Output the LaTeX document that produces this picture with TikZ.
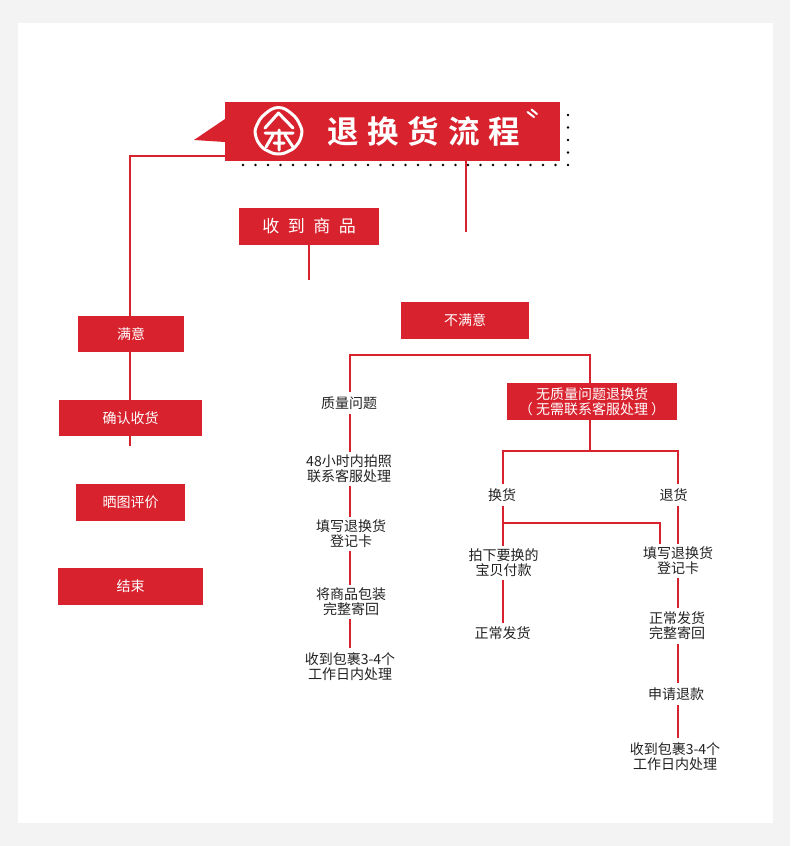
\documentclass[tikz,border=0pt]{standalone}
\usepackage{fontspec}
\setmainfont{Noto Sans CJK SC}
\newfontfamily\titlefont[LetterSpace=28]{Noto Sans CJK SC Bold}
\newfontfamily\headfont[LetterSpace=50]{Noto Sans CJK SC}
\usetikzlibrary{positioning, calc}
\definecolor{rdmain}{HTML}{D8232F}
\definecolor{bggray}{HTML}{F3F3F3}
\definecolor{txtdark}{HTML}{222222}

\begin{document}
\begin{tikzpicture}[
  x=1pt, y=-1pt,
  rbox/.style={
    fill=rdmain, minimum width=#1, minimum height=37pt, text=white,
    font=\fontsize{14}{15}\selectfont, align=center, inner sep=0pt, outer sep=0pt
  },
  ttxt/.style={
    minimum height=#1, text=txtdark, font=\fontsize{14}{15}\selectfont,
    align=center, inner sep=0pt, outer sep=0pt
  },
  conn/.style={draw=rdmain, line width=2pt},
  logoline/.style={draw=white, line width=3pt, line cap=round, line join=round},
]

% Background
\fill[bggray] (0,0) rectangle (790,846);
\fill[white] (18,23) rectangle (773,823);

% Dots round the banner
\foreach \i in {0,...,26}
  \fill[black] (243+12.5*\i,165) circle (1.4);
\foreach \j in {115,127.5,140,152.5}
  \fill[black] (568,\j) circle (1.4);

% =============================================
% Title banner
% =============================================
\fill[rdmain] (225,119) -- (194,140) -- (225,142) -- cycle;
\node[rbox=335pt, minimum height=59pt] (banner) at (392.5,131.5) {};
\node[text=white, inner sep=0pt, font=\fontsize{31.5}{34}\titlefont] (title) at (423.5,131.5)
  {退换货流程};

% Logo
\draw[logoline] plot[smooth cycle, tension=0.75] coordinates
  {(278.5,107.5) (292,114) (300,125) (301.5,135) (296,146) (287,152) (278.5,154)
   (270,152) (261,146) (255.5,135) (257,125) (265,114)};
\draw[logoline] (265,128) -- (278.5,113) -- (293,128);
\draw[logoline] (265,133) -- (293,133) (279,130) -- (279,150)
  (273,135) -- (266,147) (285,135) -- (293,147) (274,143) -- (284,143);
\draw[logoline, line width=2pt] (527.5,112) -- (534,117) (531.5,109.5) -- (537,114);

% =============================================
% Top row
% =============================================
\node[rbox=140pt] (received) at (309,226.5)
  {\fontsize{17}{18}\headfont 收到商品};
\node[rbox=128pt] (unhappy) at (465,320.5) {不满意};
\coordinate (bannerend) at (466,232);
\coordinate (receivedend) at (309,280);

% =============================================
% Left: satisfied
% =============================================
\node[rbox=106pt, minimum height=36pt] (happy) at (131,334) {满意};
\node[rbox=143pt, minimum height=36pt] (confirm) at (130.5,418) {确认收货};
\node[rbox=109pt, minimum height=37pt] (review) at (130.5,502.5) {晒图评价};
\node[rbox=145pt, minimum height=37pt] (finish) at (130.5,586.5) {结束};
\coordinate (confirmend) at (129.5,446);

% =============================================
% Middle: quality problem
% =============================================
\node[ttxt=22pt] (quality) at (349,403) {质量问题};
\node[ttxt=34pt] (photo) at (349,469) {48小时内拍照\\联系客服处理};
\node[ttxt=34pt] (card) at (351,534) {填写退换货\\登记卡};
\node[ttxt=34pt] (pack) at (351,602) {将商品包装\\完整寄回};
\node[ttxt=38pt] (parcel) at (350,667) {收到包裹3-4个\\工作日内处理};

% =============================================
% Right: no quality problem
% =============================================
\node[rbox=170pt] (noqual) at (592,401.5)
  {无质量问题退换货\\（ 无需联系客服处理 ）};
\node[ttxt=22pt] (swap) at (502,495) {换货};
\node[ttxt=34pt] (paynew) at (503.5,563) {拍下要换的\\宝贝付款};
\node[ttxt=20pt] (shipa) at (502.5,633) {正常发货};
\node[ttxt=22pt] (refund) at (673.5,495) {退货};
\node[ttxt=34pt] (cardb) at (678,561) {填写退换货\\登记卡};
\node[ttxt=36pt] (shipb) at (677,626) {正常发货\\完整寄回};
\node[ttxt=22pt] (askrefund) at (676,694) {申请退款};
\node[ttxt=38pt] (parcelb) at (675,757) {收到包裹3-4个\\工作日内处理};

% =============================================
% Connectors
% =============================================

% Banner to left column
\draw[conn] ([yshift=-24.5pt]banner.west) -| ([xshift=-1.5pt]happy.north);
\draw[conn] ([xshift=-1.5pt]happy.south) -- ([xshift=-1pt]confirm.north);
\draw[conn] ([xshift=-1pt]confirm.south) -- (confirmend);

% Stubs
\draw[conn] ([xshift=73.5pt]banner.south) -- (bannerend);
\draw[conn] (received.south) -- (receivedend);

% Top bar over both branches
\draw[conn] ([xshift=1pt]quality.north) -- ++(0,-37) -| ([xshift=-2.5pt]noqual.north);

% Quality column
\draw[conn] ([xshift=1pt]quality.south) -- ([xshift=1pt]photo.north);
\draw[conn] ([xshift=1pt]photo.south) -- ([xshift=-1pt]card.north);
\draw[conn] ([xshift=-1pt]card.south) -- ([xshift=-1pt]pack.north);
\draw[conn] ([xshift=-1pt]pack.south) -- (parcel.north);

% Split under the red box
\draw[conn] ([xshift=-2.5pt]noqual.south) -- ++(0,31) coordinate (split);
\draw[conn] ([xshift=1pt]swap.north) |- (split);
\draw[conn] ([xshift=4.5pt]refund.north) |- (split);

% Exchange branch
\draw[conn] ([xshift=1pt]swap.south) -- ([xshift=-0.5pt]paynew.north);
\draw[conn] ([xshift=1pt,yshift=-17pt]swap.south) -| ([xshift=-18pt]cardb.north);
\draw[conn] ([xshift=-0.5pt]paynew.south) -- ([xshift=0.5pt]shipa.north);

% Refund branch
\draw[conn] ([xshift=4.5pt]refund.south) -- (cardb.north);
\draw[conn] (cardb.south) -- ([xshift=1pt]shipb.north);
\draw[conn] ([xshift=1pt]shipb.south) -- ([xshift=2pt]askrefund.north);
\draw[conn] ([xshift=2pt]askrefund.south) -- ([xshift=3pt]parcelb.north);

\end{tikzpicture}
\end{document}
